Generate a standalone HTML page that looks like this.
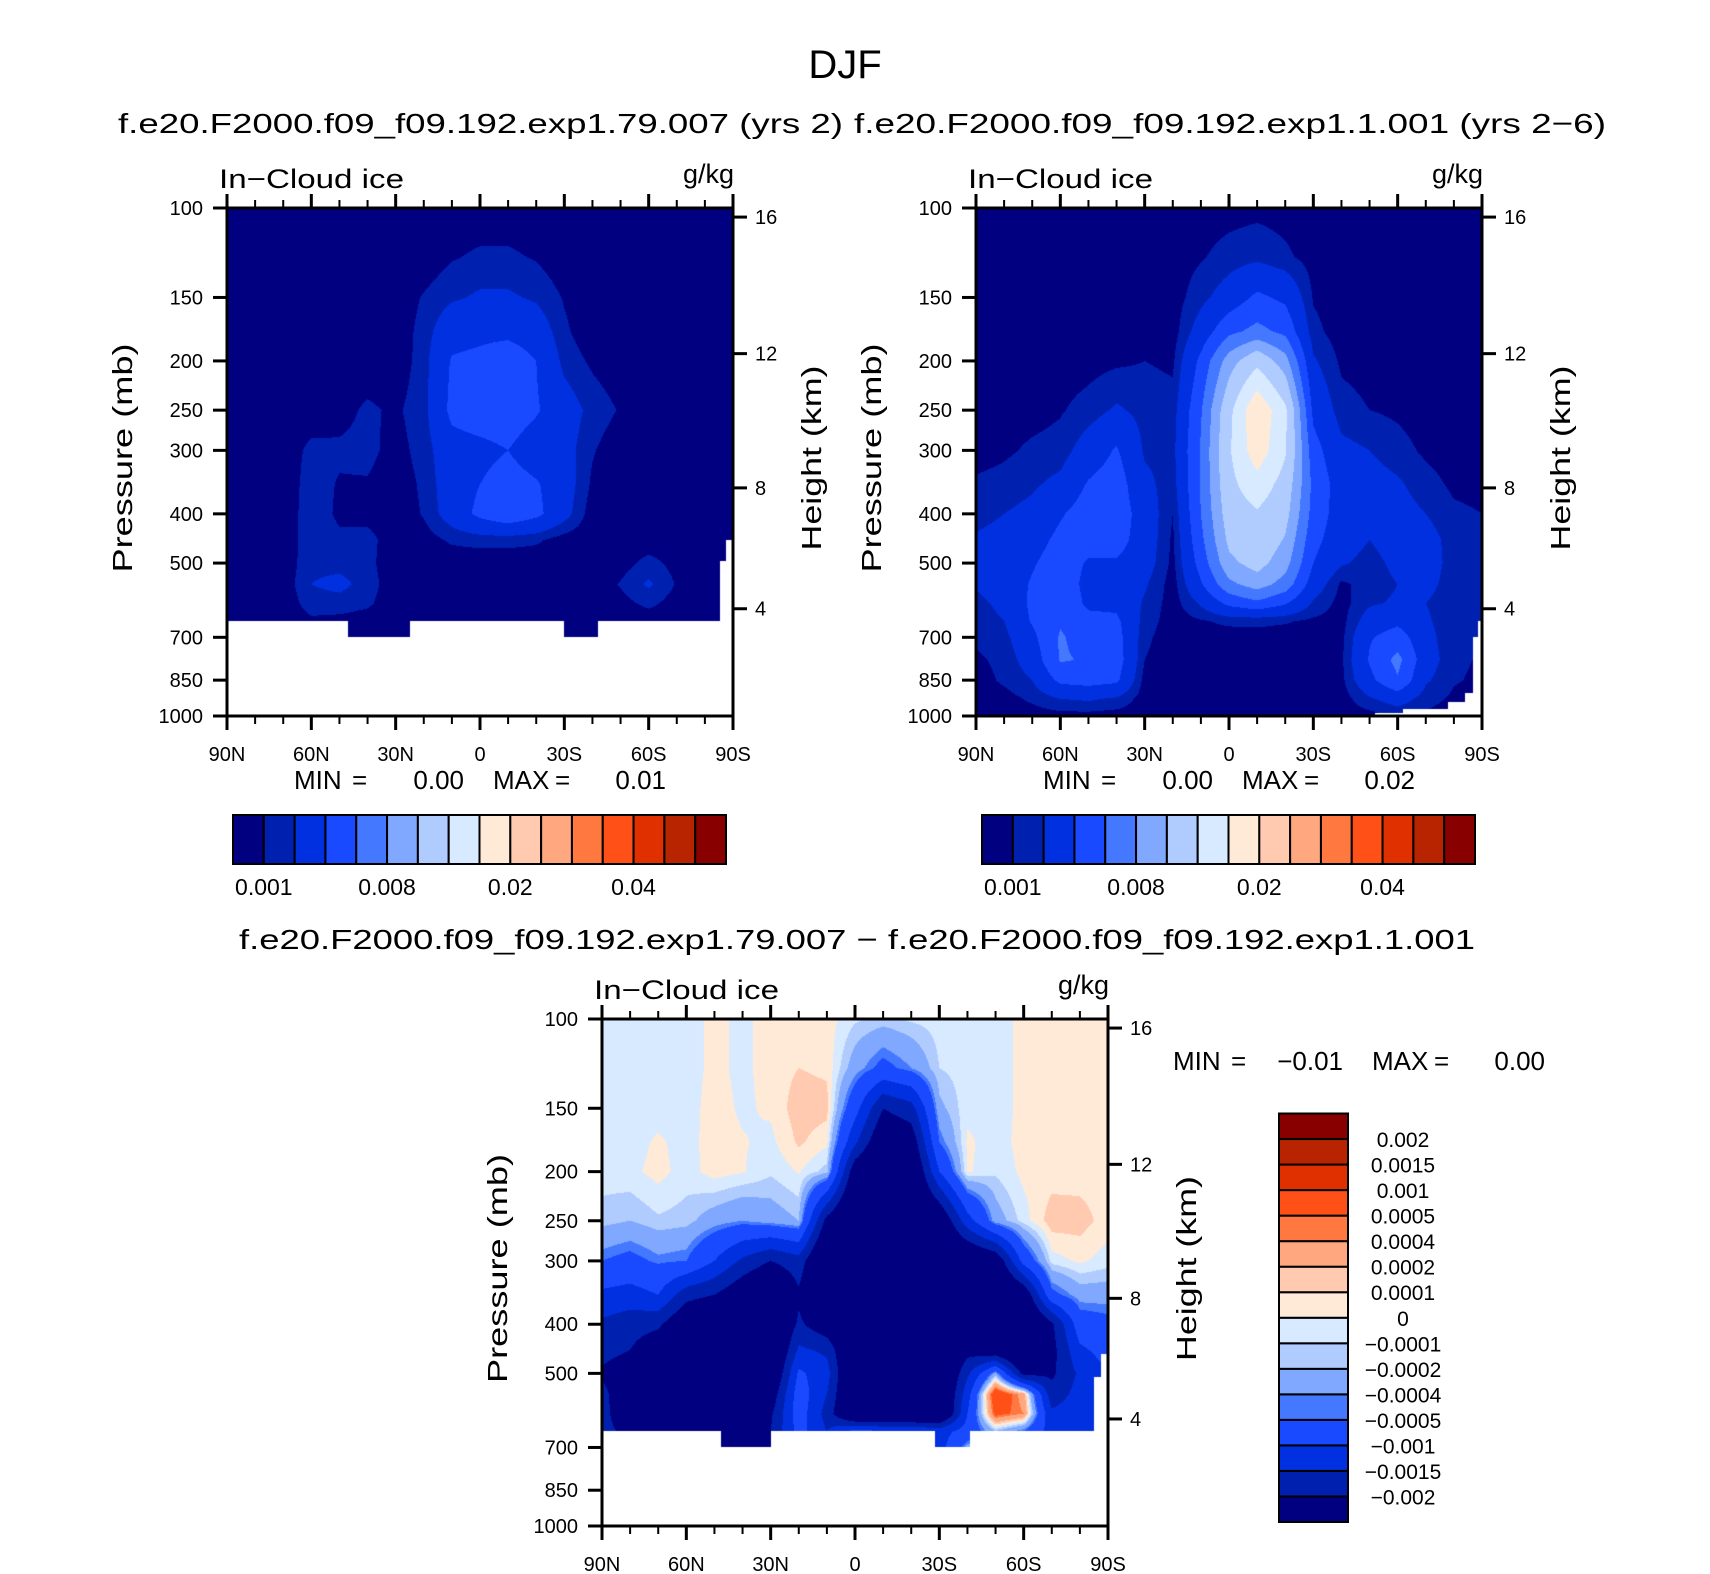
<!DOCTYPE html>
<html><head><meta charset="utf-8"><title>DJF In-Cloud ice</title>
<style>
html,body{margin:0;padding:0;background:#fff;}
#wrap{position:relative;width:1710px;height:1574px;overflow:hidden;}
#field{position:absolute;left:0;top:0;}
#ov{position:absolute;left:0;top:0;}
text{font-family:"Liberation Sans",Arial,sans-serif;fill:#000;}
</style></head>
<body>
<div id="wrap">
<canvas id="field" width="1710" height="1574"></canvas>
<svg id="ov" width="1710" height="1574" xmlns="http://www.w3.org/2000/svg">
<text x="845" y="78" font-size="40" text-anchor="middle">DJF</text>
<text x="118" y="133" font-size="28" textLength="725" lengthAdjust="spacingAndGlyphs">f.e20.F2000.f09_f09.192.exp1.79.007 (yrs 2)</text>
<text x="854" y="133" font-size="28" textLength="752" lengthAdjust="spacingAndGlyphs">f.e20.F2000.f09_f09.192.exp1.1.001 (yrs 2−6)</text>
<text x="239" y="949" font-size="28" textLength="1236" lengthAdjust="spacingAndGlyphs">f.e20.F2000.f09_f09.192.exp1.79.007 − f.e20.F2000.f09_f09.192.exp1.1.001</text>
<g id="axes"></g>
</svg>
</div>
<script>
// ---- data ----
const levelsP = [100,125,150,175,200,250,300,350,400,450,500,550,600,650,700,775,850,925,1000];
const lats = [90,80,70,60,50,40,30,20,10,0,-10,-20,-30,-40,-50,-60,-70,-80,-90];
// values in 1e-4 g/kg, indexed [lat][pressure level]
const ice1 = [
[3,3,3,3,3,3,3,3,3,3,3,3,3,3,3,3,3,3,3],
[3,3,3,3,3,3,3,3,3,3,3,3,3,3,3,3,3,3,3],
[3,3,3,3,3,3,3,3,3,3,3,3,3,3,3,3,3,3,3],
[3,3,3,3,3,3,13,15,16,16,17,20,15,8,3,3,3,3,3],
[3,3,3,3,3,6,12,9,8,12,16,24,15,7,3,3,3,3,3],
[3,3,3,3,3,12,13,9,6,14,13,15,12,5,3,3,3,3,3],
[3,3,3,3,3,8,6,4,3,3,3,3,3,3,3,3,3,3,3],
[3,3,11,14,15,16,14,12,11,5,3,3,3,3,3,3,3,3,3],
[3,9,18,32,42,45,32,30,28,12,3,3,3,3,3,3,3,3,3],
[3,12,22,35,45,50,35,40,45,14,3,3,3,3,3,3,3,3,3],
[3,12,22,35,52,50,40,48,55,14,3,3,3,3,3,3,3,3,3],
[3,9,18,30,40,42,30,42,45,12,3,3,3,3,3,3,3,3,3],
[3,3,9,12,16,28,26,28,26,5,3,3,3,3,3,3,3,3,3],
[3,3,3,3,8,16,11,8,4,3,3,3,3,3,3,3,3,3,3],
[3,3,3,3,3,9,3,3,3,3,5,11,6,3,3,3,3,3,3],
[3,3,3,3,3,3,3,3,3,3,14,22,13,3,3,3,3,3,3],
[3,3,3,3,3,3,3,3,3,3,6,9,5,3,3,3,3,3,3],
[3,3,3,3,3,3,3,3,3,3,3,3,3,3,3,3,3,3,3],
[3,3,3,3,3,3,3,3,3,3,3,3,3,3,3,3,3,3,3]];
const ice2 = [
[5,5,5,5,5,5,5,12,15,22,26,22,16,14,12,8,5,5,5],
[5,5,5,5,5,5,8,14,20,26,28,28,24,20,16,13,12,6,5],
[5,5,5,5,5,6,12,18,24,32,38,42,44,42,35,28,20,12,5],
[5,5,5,5,5,9,14,24,38,45,50,52,55,58,62,62,45,20,6],
[5,5,5,5,6,14,28,42,50,48,38,34,36,46,52,58,48,22,6],
[5,5,5,5,8,22,42,50,52,48,38,32,35,44,48,50,44,18,5],
[5,5,5,5,10,16,18,24,30,30,28,22,18,15,12,10,6,5,5],
[5,5,5,5,8,14,16,14,10,8,7,5,5,5,5,5,5,5,5],
[5,9,16,28,45,58,62,62,60,55,48,38,22,9,7,5,5,5,5],
[6,14,28,55,90,118,122,118,112,105,95,75,45,12,6,5,5,5,5],
[7,17,44,66,118,172,165,140,122,118,108,90,55,12,7,5,5,5,5],
[6,12,36,55,88,130,128,115,108,98,88,72,42,11,6,5,5,5,5],
[5,6,9,13,22,35,48,55,52,46,40,30,18,8,5,5,5,5,5],
[5,5,5,5,8,14,24,30,30,28,22,8,6,6,7,8,7,5,5],
[5,5,5,5,6,10,20,26,25,20,15,14,18,28,38,42,35,18,6],
[5,5,5,5,5,8,14,22,26,28,24,20,22,35,50,66,58,28,10],
[5,5,5,5,5,5,8,14,20,26,26,24,20,22,25,28,22,14,8],
[5,5,5,5,5,5,5,8,12,15,16,15,14,13,12,12,11,8,5],
[5,5,5,5,5,5,5,7,10,12,13,13,12,12,10,9,8,5,5]];
const diff3 = [
[-0.5,-0.5,-0.5,-0.5,-0.5,-1.5,-5,-11,-16,-18,-21,-18,-18,-18,-18,-18,-18,-18,-18],
[-0.5,-0.5,-0.5,-0.5,-0.3,-2,-6,-12,-18,-20,-24,-26,-25,-22,-22,-22,-22,-22,-22],
[-0.5,-0.5,-0.5,0.2,0.4,-1.2,-4.5,-10,-19,-24,-30,-30,-30,-30,-30,-30,-30,-30,-30],
[-0.5,-0.5,-0.5,-0.5,-0.5,-1.5,-5,-18,-26,-30,-30,-30,-30,-30,-30,-30,-30,-30,-30],
[0.3,0.3,0.5,0.6,0.5,-3,-10,-20,-30,-30,-30,-30,-30,-30,-30,-30,-30,-30,-30],
[-0.3,-0.3,-0.2,0.1,0.1,-4,-16,-25,-30,-30,-30,-30,-30,-30,-30,-30,-30,-30,-30],
[0.5,0.5,0.2,-0.3,-0.8,-3,-20,-30,-30,-30,-28,-24,-21,-20,-25,-25,-25,-25,-25],
[0.5,1.0,1.6,1.2,0.1,-2,-17,-21,-19,-14,-9,-7,-7,-8,-8,-8,-8,-8,-8],
[0.5,0.8,1.4,0.3,-1.5,-22,-30,-30,-24,-16,-13,-15,-17,-15,-15,-15,-15,-15,-15],
[-0.8,-3,-8,-14,-24,-30,-30,-30,-30,-30,-30,-30,-30,-8,-8,-8,-8,-8,-8],
[-1.3,-6,-20,-26,-30,-30,-30,-30,-30,-30,-30,-30,-30,-10,-10,-10,-10,-10,-10],
[-0.8,-4,-17,-24,-28,-30,-30,-30,-30,-30,-30,-30,-30,-10,-10,-10,-10,-10,-10],
[-0.5,-1,-2.5,-5,-10,-26,-30,-30,-30,-30,-30,-30,-30,-12,-12,-12,-12,-12,-12],
[-0.5,-0.5,-0.3,0.2,0.2,-12,-28,-30,-30,-22,-16,-12,-10,-8,-3,-3,-3,-3,-3],
[-0.5,-0.5,-0.5,-0.5,-0.8,-3,-25,-30,-30,-25,-3,8,6,-2,-2,-2,-2,-2,-2],
[0.3,0.3,0.3,0.4,0.3,-0.5,-8,-25,-30,-30,-22,3,4,-5,-5,-5,-5,-5,-5],
[0.5,0.5,0.5,0.5,0.5,1.6,-0.5,-6,-21,-22,-21,-18,-14,-12,-12,-12,-12,-12,-12],
[0.5,0.5,0.5,0.5,0.5,1.5,0.2,-3,-7,-11,-14,-13,-12,-12,-12,-12,-12,-12,-12],
[0.5,0.5,0.5,0.5,0.5,0.5,-0.5,-3,-6,-8,-10,-11,-11,-11,-11,-11,-11,-11,-11]];
const iceLevels = [0.001,0.002,0.004,0.006,0.008,0.01,0.0125,0.015,0.02,0.025,0.03,0.035,0.04,0.045,0.05];
const diffLevels = [-0.002,-0.0015,-0.001,-0.0005,-0.0004,-0.0002,-0.0001,0,0.0001,0.0002,0.0004,0.0005,0.001,0.0015,0.002];
const iceLabels = ['0.001','','','','0.008','','','','0.02','','','','0.04','',''];
const diffLabels = ['−0.002','−0.0015','−0.001','−0.0005','−0.0004','−0.0002','−0.0001','0','0.0001','0.0002','0.0004','0.0005','0.001','0.0015','0.002'];
const palette = ['#000080','#0020B0','#0030E0','#1A4AFF','#4478FF','#80A8FF','#B0CCFF','#D8EAFF','#FFEAD8','#FFCAB0','#FFA880','#FF7840','#FF5018','#E03000','#B82400','#880000'];
// missing-data bottoms: [lat north edge, lat south edge, bottom pressure]
const mask1 = [[47,25,700],[-30,-42,700],[-85.4,-87.5,495],[-87.5,-90,450]];
const mask2 = [[-52,-62,985],[-62,-78,970],[-78,-84,940],[-84,-86.7,900],[-86.7,-88.6,700],[-88.6,-90,650]];
const mask3 = [[47.8,30,700],[-28.6,-41,700],[-84.9,-87.5,509],[-87.5,-90,457]];
const pTicks = [100,150,200,250,300,400,500,700,850,1000];
const hTicks = [4,8,12,16];
const hTickP = [615,355.6,193.5,104.2];
const latTicks = [90,60,30,0,-30,-60,-90];
const latLabels = ['90N','60N','30N','0','30S','60S','90S'];
const stats1 = ['0.00','0.01'];
const stats2 = ['0.00','0.02'];
const stats3 = ['−0.01','0.00'];

// ---- geometry ----
const panels = [
 {id:'panel1',grid:ice1,levels:iceLevels,x:227,y:208,w:506,h:508,mask:mask1,defBottom:650},
 {id:'panel2',grid:ice2,levels:iceLevels,x:976,y:208,w:506,h:508,mask:mask2,defBottom:1000},
 {id:'panel3',grid:diff3,levels:diffLevels,x:602,y:1019,w:506,h:507,mask:mask3,defBottom:650}
];
const NS='http://www.w3.org/2000/svg';
const axes=document.getElementById('axes');
function el(tag,attrs,parent,txt){const e=document.createElementNS(NS,tag);for(const k in attrs)e.setAttribute(k,attrs[k]);if(txt!==undefined)e.textContent=txt;(parent||axes).appendChild(e);return e;}
function xOf(P,lat){return P.x+(90-lat)/180*P.w;}
function yOf(P,p){return P.y+Math.log10(p/100)*P.h;}
function bottomOf(P,lat){let b=P.defBottom;for(const s of P.mask){if(lat<=s[0]&&lat>=s[1])b=s[2];}return b;}
function sample(grid,lat,p){
 let fi=(90-lat)/10;let i0=Math.min(17,Math.max(0,Math.floor(fi)));let t=fi-i0;
 const lp=Math.log(p);let j0=0;
 for(let j=0;j<levelsP.length-1;j++){if(p>=levelsP[j])j0=j;}
 j0=Math.min(j0,levelsP.length-2);
 let u=(lp-Math.log(levelsP[j0]))/(Math.log(levelsP[j0+1])-Math.log(levelsP[j0]));u=Math.max(0,Math.min(1,u));
 const a=grid[i0][j0],b=grid[i0+1][j0],c=grid[i0][j0+1],d=grid[i0+1][j0+1];
 return ((a*(1-t)+b*t)*(1-u)+(c*(1-t)+d*t)*u)/1e4;
}
function hex(h){return [parseInt(h.slice(1,3),16),parseInt(h.slice(3,5),16),parseInt(h.slice(5,7),16)];}
const rgb=palette.map(hex);

// ---- draw fields ----
const ctx=document.getElementById('field').getContext('2d');
ctx.fillStyle='#fff';ctx.fillRect(0,0,1710,1574);
for(const P of panels){
 const img=ctx.createImageData(P.w,P.h);
 for(let X=0;X<P.w;X++){
  const lat=90-(X+0.5)/P.w*180;const bot=bottomOf(P,lat);
  for(let Y=0;Y<P.h;Y++){
   const p=100*Math.pow(10,(Y+0.5)/P.h);const k=(Y*P.w+X)*4;
   if(p>bot){img.data[k]=255;img.data[k+1]=255;img.data[k+2]=255;img.data[k+3]=255;continue;}
   const v=sample(P.grid,lat,p);let band=0;for(const L of P.levels){if(v>=L)band++;}
   const c=rgb[band];img.data[k]=c[0];img.data[k+1]=c[1];img.data[k+2]=c[2];img.data[k+3]=255;
  }
 }
 ctx.putImageData(img,P.x,P.y);
}

// ---- axes ----
for(const P of panels){
 const g=el('g',{});
 
 
 const fr=el('rect',{x:P.x,y:P.y,width:P.w,height:P.h,fill:'none',stroke:'#000','stroke-width':3},g);
 
 
 for(let lat=90;lat>=-90;lat-=10){
  const x=xOf(P,lat);const major=(lat%30===0);const L=major?14:8;
  const tb=el('line',{x1:x,x2:x,y1:P.y+P.h,y2:P.y+P.h+L,stroke:'#000','stroke-width':major?3:2},g);
  
  
  const tt=el('line',{x1:x,x2:x,y1:P.y,y2:P.y-L,stroke:'#000','stroke-width':major?3:2},g);
  
  
 }
 latTicks.forEach((lat,i)=>{
  const t=el('text',{x:xOf(P,lat),y:P.y+P.h+45,'font-size':20,'text-anchor':'middle'},g,latLabels[i]);
  
  
 });
 pTicks.forEach(p=>{
  const y=yOf(P,p);
  const tk=el('line',{x1:P.x-14,x2:P.x,y1:y,y2:y,stroke:'#000','stroke-width':3},g);
  
  
  const t=el('text',{x:P.x-24,y:y+7,'font-size':20,'text-anchor':'end'},g,String(p));
  
  
 });
 hTicks.forEach((h,i)=>{
  const y=yOf(P,hTickP[i]);
  const tk=el('line',{x1:P.x+P.w,x2:P.x+P.w+14,y1:y,y2:y,stroke:'#000','stroke-width':3},g);
  
  
  const t=el('text',{x:P.x+P.w+22,y:y+7,'font-size':20},g,String(h));
  
  
 });
 const cy=P.y+P.h/2-4;
 const yt=el('text',{x:P.x-105,y:cy,'font-size':28,'text-anchor':'middle',transform:`rotate(-90 ${P.x-105} ${cy})`,dy:10,textLength:229,lengthAdjust:'spacingAndGlyphs'},g,'Pressure (mb)');
 
 
 const ht=el('text',{x:P.x+P.w+78,y:cy,'font-size':28,'text-anchor':'middle',transform:`rotate(-90 ${P.x+P.w+78} ${cy})`,dy:10,textLength:185,lengthAdjust:'spacingAndGlyphs'},g,'Height (km)');
 
 
 const lt=el('text',{x:P.x-8,y:P.y-20,'font-size':27,textLength:185,lengthAdjust:'spacingAndGlyphs'},g,'In−Cloud ice');
 
 
 const ut=el('text',{x:P.x+P.w+1,y:P.y-25,'font-size':27,'text-anchor':'end'},g,'g/kg');
 
 
}

// ---- min/max texts ----
function stats(vals,x0,y,name){
 const g=el('g',{});
 
 
 const parts=[['MIN',x0,'start'],['=',x0+58,'start'],[vals[0],x0+170,'end'],['MAX',x0+199,'start'],['=',x0+261,'start'],[vals[1],x0+372,'end']];
 parts.forEach(q=>{const t=el('text',{x:q[1],y:y,'font-size':26,'text-anchor':q[2]},g,q[0]);
  
  });
}
stats(stats1,294,789,'panel1-minmax');
stats(stats2,1043,789,'panel2-minmax');
stats(stats3,1173,1070,'panel3-minmax');

// ---- colorbars ----
function hbar(x0,y0,w,h,name){
 const g=el('g',{});
 
 
 const bw=w/palette.length;
 palette.forEach((c,i)=>{const r=el('rect',{x:x0+i*bw,y:y0,width:bw,height:h,fill:c,stroke:'#000','stroke-width':2},g);
  
  });
 iceLabels.forEach((s,i)=>{if(!s)return;const t=el('text',{x:x0+(i+1)*bw,y:y0+h+31,'font-size':23,'text-anchor':'middle'},g,s);
  
  });
}
hbar(233,815,493,49,'panel1-colorbar');
hbar(982,815,493,49,'panel2-colorbar');
(function(){
 const x0=1279,y0=1113.5,w=69,h=408.5;const bh=h/palette.length;
 const g=el('g',{});
 
 
 palette.forEach((c,i)=>{const r=el('rect',{x:x0,y:y0+(palette.length-1-i)*bh,width:w,height:bh,fill:c,stroke:'#000','stroke-width':2},g);
  
  });
 diffLabels.forEach((s,i)=>{const y=y0+(palette.length-1-i)*bh;const t=el('text',{x:1403,y:y+8,'font-size':21,'text-anchor':'middle'},g,s);
  
  });
})();
</script>
</body></html>
